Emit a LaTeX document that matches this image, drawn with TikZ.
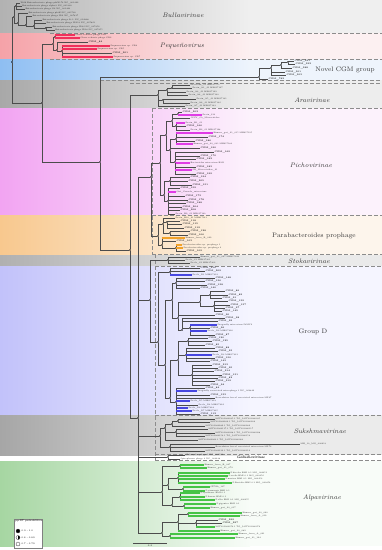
\documentclass[tikz,border=0pt]{standalone}
\usepackage{fontspec}
\usepackage{tikz}
\usetikzlibrary{calc}
\definecolor{buL}{HTML}{B2B2B2}\definecolor{buR}{HTML}{EFEFEF}
\definecolor{pqL}{HTML}{F5A2A8}\definecolor{pqR}{HTML}{FCF0F1}
\definecolor{ncL}{HTML}{8EBEF2}\definecolor{ncR}{HTML}{EEF4FC}
\definecolor{arL}{HTML}{A8A8A8}\definecolor{arR}{HTML}{EDEDED}
\definecolor{piL}{HTML}{F2A4F2}\definecolor{piR}{HTML}{FCF2FC}
\definecolor{pbL}{HTML}{F8C88E}\definecolor{pbR}{HTML}{FDF5EC}
\definecolor{stL}{HTML}{B0B0B0}\definecolor{stR}{HTML}{EAEAEA}
\definecolor{gdL}{HTML}{C2C2FA}\definecolor{gdR}{HTML}{F5F5FF}
\definecolor{suL}{HTML}{A6A6A6}\definecolor{suR}{HTML}{EBEBEB}
\definecolor{alL}{HTML}{A6D6A2}\definecolor{alR}{HTML}{F8FCF8}
\definecolor{pqred}{HTML}{F0305C}
\definecolor{pimag}{HTML}{E03CE6}
\definecolor{pborg}{HTML}{F2A22A}
\definecolor{gdblu}{HTML}{4646E0}
\definecolor{algrn}{HTML}{46C446}
\tikzset{nd/.style={circle,fill=black,inner sep=0pt,minimum size=1.6pt},
         br/.style={line width=0.35pt,draw=black!70},
         hl/.style={line width=1.3pt},
        tip/.style={anchor=west,inner sep=0.3pt,text=black!85,font=\fontsize{2}{2}\selectfont},
        cgm/.style={tip,font=\fontsize{2.2}{2.2}\selectfont\bfseries},
      clade/.style={text=black!80,font=\fontsize{6.5}{7}\selectfont\itshape},
      group/.style={text=black!80,font=\fontsize{6.5}{7}\selectfont},
        box/.style={draw=black!45,line width=0.5pt,dash pattern=on 3.5pt off 2.5pt},
       keyc/.style={circle,draw=black!80,inner sep=0pt,minimum size=4pt,line width=0.3pt},
       keyt/.style={anchor=west,inner sep=0.3pt,font=\fontsize{2.3}{2.3}\selectfont}
         }
\begin{document}
\begin{tikzpicture}[x=1pt,y=-1pt]
\useasboundingbox (0,0) rectangle (382,550);
% coloured bands
\foreach \ya/\yb/\ca/\cb in {0/33/buL/buR,33/59/pqL/pqR,59/80/ncL/ncR,80/108/arL/arR,
    108/215/piL/piR,215/255/pbL/pbR,255/266/stL/stR,266/415/gdL/gdR,415/455/suL/suR,461/546/alL/alR}
{
  \shade[left color=\ca,right color=\cb] (0,\ya) rectangle (250,\yb);
  \fill[\cb] (250,\ya) rectangle (382,\yb);
}
% clade boxes
\foreach \yy/\xa in {33/50,59/50,80/100,83/130,108/152,215/152,254/152,266/155,415/155,454/155,460/155}
  \draw[box] (\xa,\yy) -- (382,\yy);
\draw[box] (152,108) -- (152,254);
\draw[box] (155,254) -- (155,460);

\node[clade] (lbu) at (183,15) {Bullavirinae};
\node[clade] (lpq) at (182,46) {Pequeñovirus};
\node[group] (lnc) at (345,70) {Novel CGM group};
\node[clade] (lar) at (312,100) {Aravirinae};
\node[clade] (lpi) at (311,165) {Pichovirinae};
\node[group] (lpb) at (314,236) {Parabacteroides prophage};
\node[clade] (lst) at (309,261) {Stokavirinae};
\node[group] (lgd) at (313,332) {Group D};
\node[clade] (lsu) at (320,431) {Sukshmavirinae};
\node[font=\fontsize{3.6}{3.6}\selectfont\bfseries\itshape,inner sep=0.3pt] (lgk) at (251,457.5) {Gokushovirinae};
\node[clade] (lal) at (322,498) {Alpavirinae};

% tree
\node[nd] (R) at (12,62) {};
\foreach \n/\p/\x/\y in {BU/R/14/17,bn1/BU/16/6,bn2/BU/18/23,bn3/bn2/26/25,bn4/bn3/34/26,bn5/bn4/46/28,
    A/R/42/103,PQ/A/53/44,pn1/PQ/55/37,pn2/PQ/57/50,pn3/pn2/62/51,
    B/A/100/162,NC/B/259/77,nn1/NC/271/68,nn2/nn1/281/65,nn3/nn2/288/62,
    C/B/130/250,AR/C/158/95,an2/AR/167/90,an3/an2/172/88,an1/AR/163/100,
    D/C/138/418,E1/D/151/177,
    PI/E1/160/163,in1/PI/166/135,in2/PI/164/195,in3/in1/172/121,in4/in1/170/150,in5/in3/178/114,
    in6/in3/176/126,in7/in4/176/139,in8/in4/175/162,in9/in2/170/181,in10/in2/168/201,
    PB/E1/158/236,bb1/PB/163/224,bb2/PB/162/245,bb3/bb1/167/222,bb4/bb1/170/233,bb5/bb2/176/248,
    F/D/150/300,ST/F/168/260,
    GD/F/158/342,gn1/GD/170/272,gn2/GD/165/365,gn3/gn2/172/300,gn4/gn2/170/398,gn5/gn3/176/283,
    gn6/gn3/178/318,gn7/gn6/200/302,gn8/gn6/182/330,gn9/gn7/210/295,gn10/gn7/214/306,gn11/gn8/190/328,
    gn12/gn4/178/360,gn13/gn4/176/402,gn14/gn12/188/341,gn15/gn12/186/355,gn16/gn12/192/375,
    SU/D/160/436,sn1/SU/165/428,sn2/SU/170/447,sn3/sn1/172/424,sn4/sn3/178/421,sn5/sn1/176/432,
    GK/D/168/457,
    ln1/D/162/492,ln2/D/162/533,ln3/ln1/180/466,ln4/ln1/168/485,ln5/ln4/178/478,ln6/ln4/183/489,
    ln7/ln1/172/505,ln8/ln7/180/497,ln9/ln7/184/506,ln10/ln2/178/522,ln11/ln10/188/514,
    ln12/ln10/196/523,ln13/ln2/170/536}
{
  \node[nd] (\n) at (\x,\y) {};
  \draw[br] (\p) |- (\n);
}

% plain tips
\foreach \n/\p/\x/\y/\t in {bu1/bn1/20/3/{Wild Enterobacteria phage phiX174 NC\_001422},
    bu2/bn1/22/6/{Enterobacteria phage alpha3 NC\_001330},bu3/bn1/25/9/{Enterobacteria phage G4 NC\_001420},
    bu4/bn2/28/13/{Enterobacteria phage phiK NC\_001730},bu5/bn3/32/16/{Enterobacteria phage ID2 NC\_007817},
    bu6/bn4/42/20/{Enterobacteria phage St-1 NC\_012868},bu7/bn4/46/23/{Enterobacteria phage WA13 NC\_007821},
    bu8/bn5/52/27/{Enterobacteria phage ID32 NC\_007856},bu9/bn5/55/30/{Enterobacteria phage ID18 NC\_007855},
    ar1/an3/190/85/{Pavt1068\_21 MH617571},ar2/an3/192/88/{Pavin\_A1\_21 MH617127},
    ar3/an2/186/92/{Pavin\_A3\_21 MH617129},ar4/an2/188/95/{Pavin\_A4\_21 MH617130},
    ar5/an1/196/99/{Pavin\_A5\_21 MH617131},ar6/an1/190/103/{Pavin\_A6\_21 MH617132},
    ar7/AR/185/106/{Pavin\_A7\_21 MH617133},
    pi3/in3/190/118/{JCCV\_Cs\_Microviridae},pi6/in6/190/130/{Pavin\_B2\_21 MH617128},
    pi29/in10/175/214/{Pavin\_B9\_21 MH617140},pb1/bb1/175/218/{Pavin\_B10\_21 MH617141},
    st1/ST/200/257/{Human\_gut\_21\_067 MH617240},st2/ST/185/260/{Pavlo\_S1 MH617301},
    st3/ST/190/263/{Pavlo\_S2 MH617302},
    gd40/gn13/215/398/{Rose-shrine faecal associated microvirus MP37},gd42/gn13/198/405/{Pavlo\_D4 MH617322},
    su1/sn4/215/419/{LSPY01000035.1 TG\_LSPY01000035},su2/sn4/210/422/{LSPY01000206.1 TG\_LSPY01000206},
    su3/sn3/205/426/{LSPY01000289.1 TG\_LSPY01000289},su4/sn5/208/429/{LSPY01000117.1 TG\_LSPY01000117},
    su5/sn5/215/433/{LSPY01000098.1 TG\_LSPY01000098},su6/sn5/205/436/{LSPY01000154.1 TG\_LSPY01000154},
    su7/sn1/198/440/{LSPY01000060.1 TG\_LSPY01000060},su8/sn2/300/444/{MH\_10\_MG\_000613},
    su9/sn2/215/447/{Rose-shrine faecal associated microvirus MP72},su10/sn2/205/451/{LSPY01000212.1 TG\_LSPY01000212},
    gk1/GK/185/455/{Chlamydia phage 2 NC\_002194},gk2/GK/180/459/{Spiroplasma phage 4 NC\_003438}}
{
  \node[tip] (\n) at (\x,\y) {\t};
  \draw[br] (\p) |- (\n.west);
}

% CGM tips
\foreach \n/\p/\x/\y/\t in {nc1/nn3/294/61/391,nc2/nn3/295/64/392,nc3/nn2/292/68/388,nc4/nn1/285/72/301,
    nc5/nn1/286/75/303,nc6/NC/268/79/782,pq3/pn2/88/42/84,pq6/pn3/112/53/201,
    pi1/in5/182/112/202,pi5/in6/186/126/166,pi8/in7/208/137/174,pi9/in7/195/141/186,pi11/in4/200/148/190,
    pi12/in8/214/152/169,pi13/in8/200/156/170,pi14/in8/196/159/182,pi16/in8/196/167/183,pi18/in8/196/174/199,
    pi19/in9/190/177/194,pi20/in9/188/181/205,pi21/in9/192/185/151,pi22/in10/180/188/159,pi24/in10/185/196/173,
    pi25/in10/188/200/178,pi26/in10/186/203/188,pi27/in10/182/207/204,pi28/in10/180/210/208,
    pb2/bb3/180/221/118,pb3/bb3/182/224/115,pb4/bb3/184/228/119,pb5/bb4/190/231/128,pb6/bb4/188/235/106,
    pb8/bb2/176/241/103,pb11/bb5/186/251/109,
    gd1/gn1/200/268/216,gd2/gn1/205/271/209,gd4/gn5/215/278/148,gd5/gn5/205/281/136,gd6/gn5/207/285/138,
    gd7/gn5/200/288/140,gd8/gn9/225/291/86,gd9/gn9/228/295/89,gd10/gn9/222/298/91,gd11/gn10/228/301/139,
    gd12/gn10/230/305/137,gd13/gn10/225/308/97,gd14/gn10/222/311/145,gd15/gn6/215/315/90,gd16/gn8/225/318/98,
    gd17/gn8/218/321/99,gd19/gn11/210/328/96,gd21/gn11/215/335/87,gd22/gn14/208/338/120,gd23/gn14/212/341/125,
    gd24/gn14/205/345/85,gd25/gn15/215/348/88,gd26/gn15/218/351/93,gd28/gn15/215/358/150,gd29/gn15/210/361/143,
    gd30/gn16/212/365/213,gd31/gn16/218/368/95,gd32/gn16/214/371/214,gd33/gn16/222/375/131,gd34/gn16/218/378/82,
    gd35/gn16/215/381/219,gd36/gn16/210/385/94,gd37/gn13/205/388/84,gd39/gn13/210/395/133,gd45/gn13/200/414/112,
    al16/ln12/218/520/299,al17/ln12/222/523/297}
{
  \node[cgm] (\n) at (\x,\y) {CGM\_\t};
  \draw[br] (\p) |- (\n.west);
}

% highlighted tips
\foreach \n/\p/\x/\y/\c/\t in {pq1/pn1/75/35/pqred/{Ciona robusta phage CR1},pq2/pn1/80/38/pqred/{Ciona robusta phage CR2},
    pq4/pn3/110/46/pqred/{Pequenovirus sp. CR4},pq5/pn3/97/49/pqred/{Pequenovirus sp. CR5},
    pq7/pn3/113/57/pqred/{Pequenovirus sp. CR7},
    pi2/in5/202/115/pimag/{Pavin\_213},pi4/in6/185/123/pimag/{Pavin\_B1\_21},
    pi7/in7/213/133/pimag/{Human\_gut\_21\_015 MH617195},pi10/in7/193/144/pimag/{Human\_gut\_20\_031 MH617180},
    pi15/in8/190/163/pimag/{Bacteroides microvirus BM1},pi17/in8/192/170/pimag/{SR\_Microviridae\_21},
    pi23/in10/176/192/pimag/{Gut\_Canada\_microvirus},
    pb7/bb2/185/238/pborg/{Human\_feces\_B\_029},pb9/bb5/182/245/pborg/{Parabacteroides sp. prophage 1},
    pb10/bb5/183/248/pborg/{Parabacteroides sp. prophage 2},
    gd3/gn1/192/275/gdblu/{Pavlo\_D1 MH617319},gd18/gn11/217/325/gdblu/{Dragonfly microvirus DfMV2},
    gd20/gn11/207/331/gdblu/{Pavlo\_D2 MH617320},gd27/gn15/212/355/gdblu/{Pavlo\_D3 MH617321},
    gd38/gn13/197/391/gdblu/{Dragonfly associated microphage 1 NC\_023849},gd41/gn13/190/401/gdblu/{Pavlo\_D5 MH617323},
    gd43/gn13/188/408/gdblu/{Pavlo\_D6 MH617324},gd44/gn13/192/411/gdblu/{Pavlo\_D7 MH617325},
    al1/ln3/204/465/algrn/{Human\_feces\_B\_007},al2/ln3/207/468/algrn/{Human\_gut\_21\_079},
    al3/ln5/230/473/algrn/{P.bicolor BMI 0.1 MG\_000451},al4/ln5/228/476/algrn/{P.ovalis BMI 0.1 MG\_000452},
    al5/ln5/225/479/algrn/{P.marina BMI 0.1 MG\_000453},al6/ln5/232/483/algrn/{P.fluvialis BMI 0.1 MG\_000454},
    al7/ln6/210/487/algrn/{CF7fib\_167},al8/ln6/205/491/algrn/{P.siamensis BMI 0.1},
    al9/ln8/200/493/algrn/{P.cynthiana BMI 0.1},al10/ln8/205/497/algrn/{P.limosa BMI 0.1},
    al11/ln8/215/500/algrn/{P.alba BMI 0.1 MG\_000455},al12/ln9/216/504/algrn/{P.gigantea BMI 0.1},
    al13/ln9/210/508/algrn/{Human\_gut\_20\_017},al14/ln11/242/513/algrn/{Human\_gut\_20\_060},
    al15/ln11/240/516/algrn/{Human\_feces\_A\_019},al18/ln12/215/527/algrn/{LSPY01000074.1 TG\_LSPY01000074},
    al19/ln10/220/531/algrn/{Human\_gut\_20\_089},al20/ln13/238/534/algrn/{Human\_feces\_A\_021},
    al21/ln13/235/538/algrn/{Human\_gut\_21\_124}}
{
  \node[tip] (\n) at (\x,\y) {\t};
  \draw[br] (\p) |- (\n.west);
  \draw[hl,\c] (\p |- \n.west) -- (\n.west);
}

% key
\node[draw=black!50,fill=white,line width=0.4pt,minimum width=28pt,minimum height=29pt,inner sep=0pt] (key) at (28,533.5) {};
\node[keyt,anchor=north west] (keyh) at ([xshift=1pt,yshift=-1pt]key.north west) {pp-RT probabilities};
\node[keyc,fill=black] (k1) at (18,531) {};
\node[keyc,path picture={\fill (path picture bounding box.north) rectangle (path picture bounding box.south east);}] (k2) at (18,537.5) {};
\node[keyc] (k3) at (18,544) {};
\node[keyt] (k1t) at ([xshift=1pt]k1.east) {0.9 - 1.0};
\node[keyt] (k2t) at ([xshift=1pt]k2.east) {0.8 - 0.89};
\node[keyt] (k3t) at ([xshift=1pt]k3.east) {0.7 - 0.79};

% scale
\coordinate (sbl) at (133,543);
\coordinate (sbr) at (167,543);
\draw[br] (sbl) -- (sbr);
\node[keyt,anchor=north] (sbt) at ($(sbl)!0.5!(sbr)+(0,1.5)$) {0.3};
\end{tikzpicture}
\end{document}
